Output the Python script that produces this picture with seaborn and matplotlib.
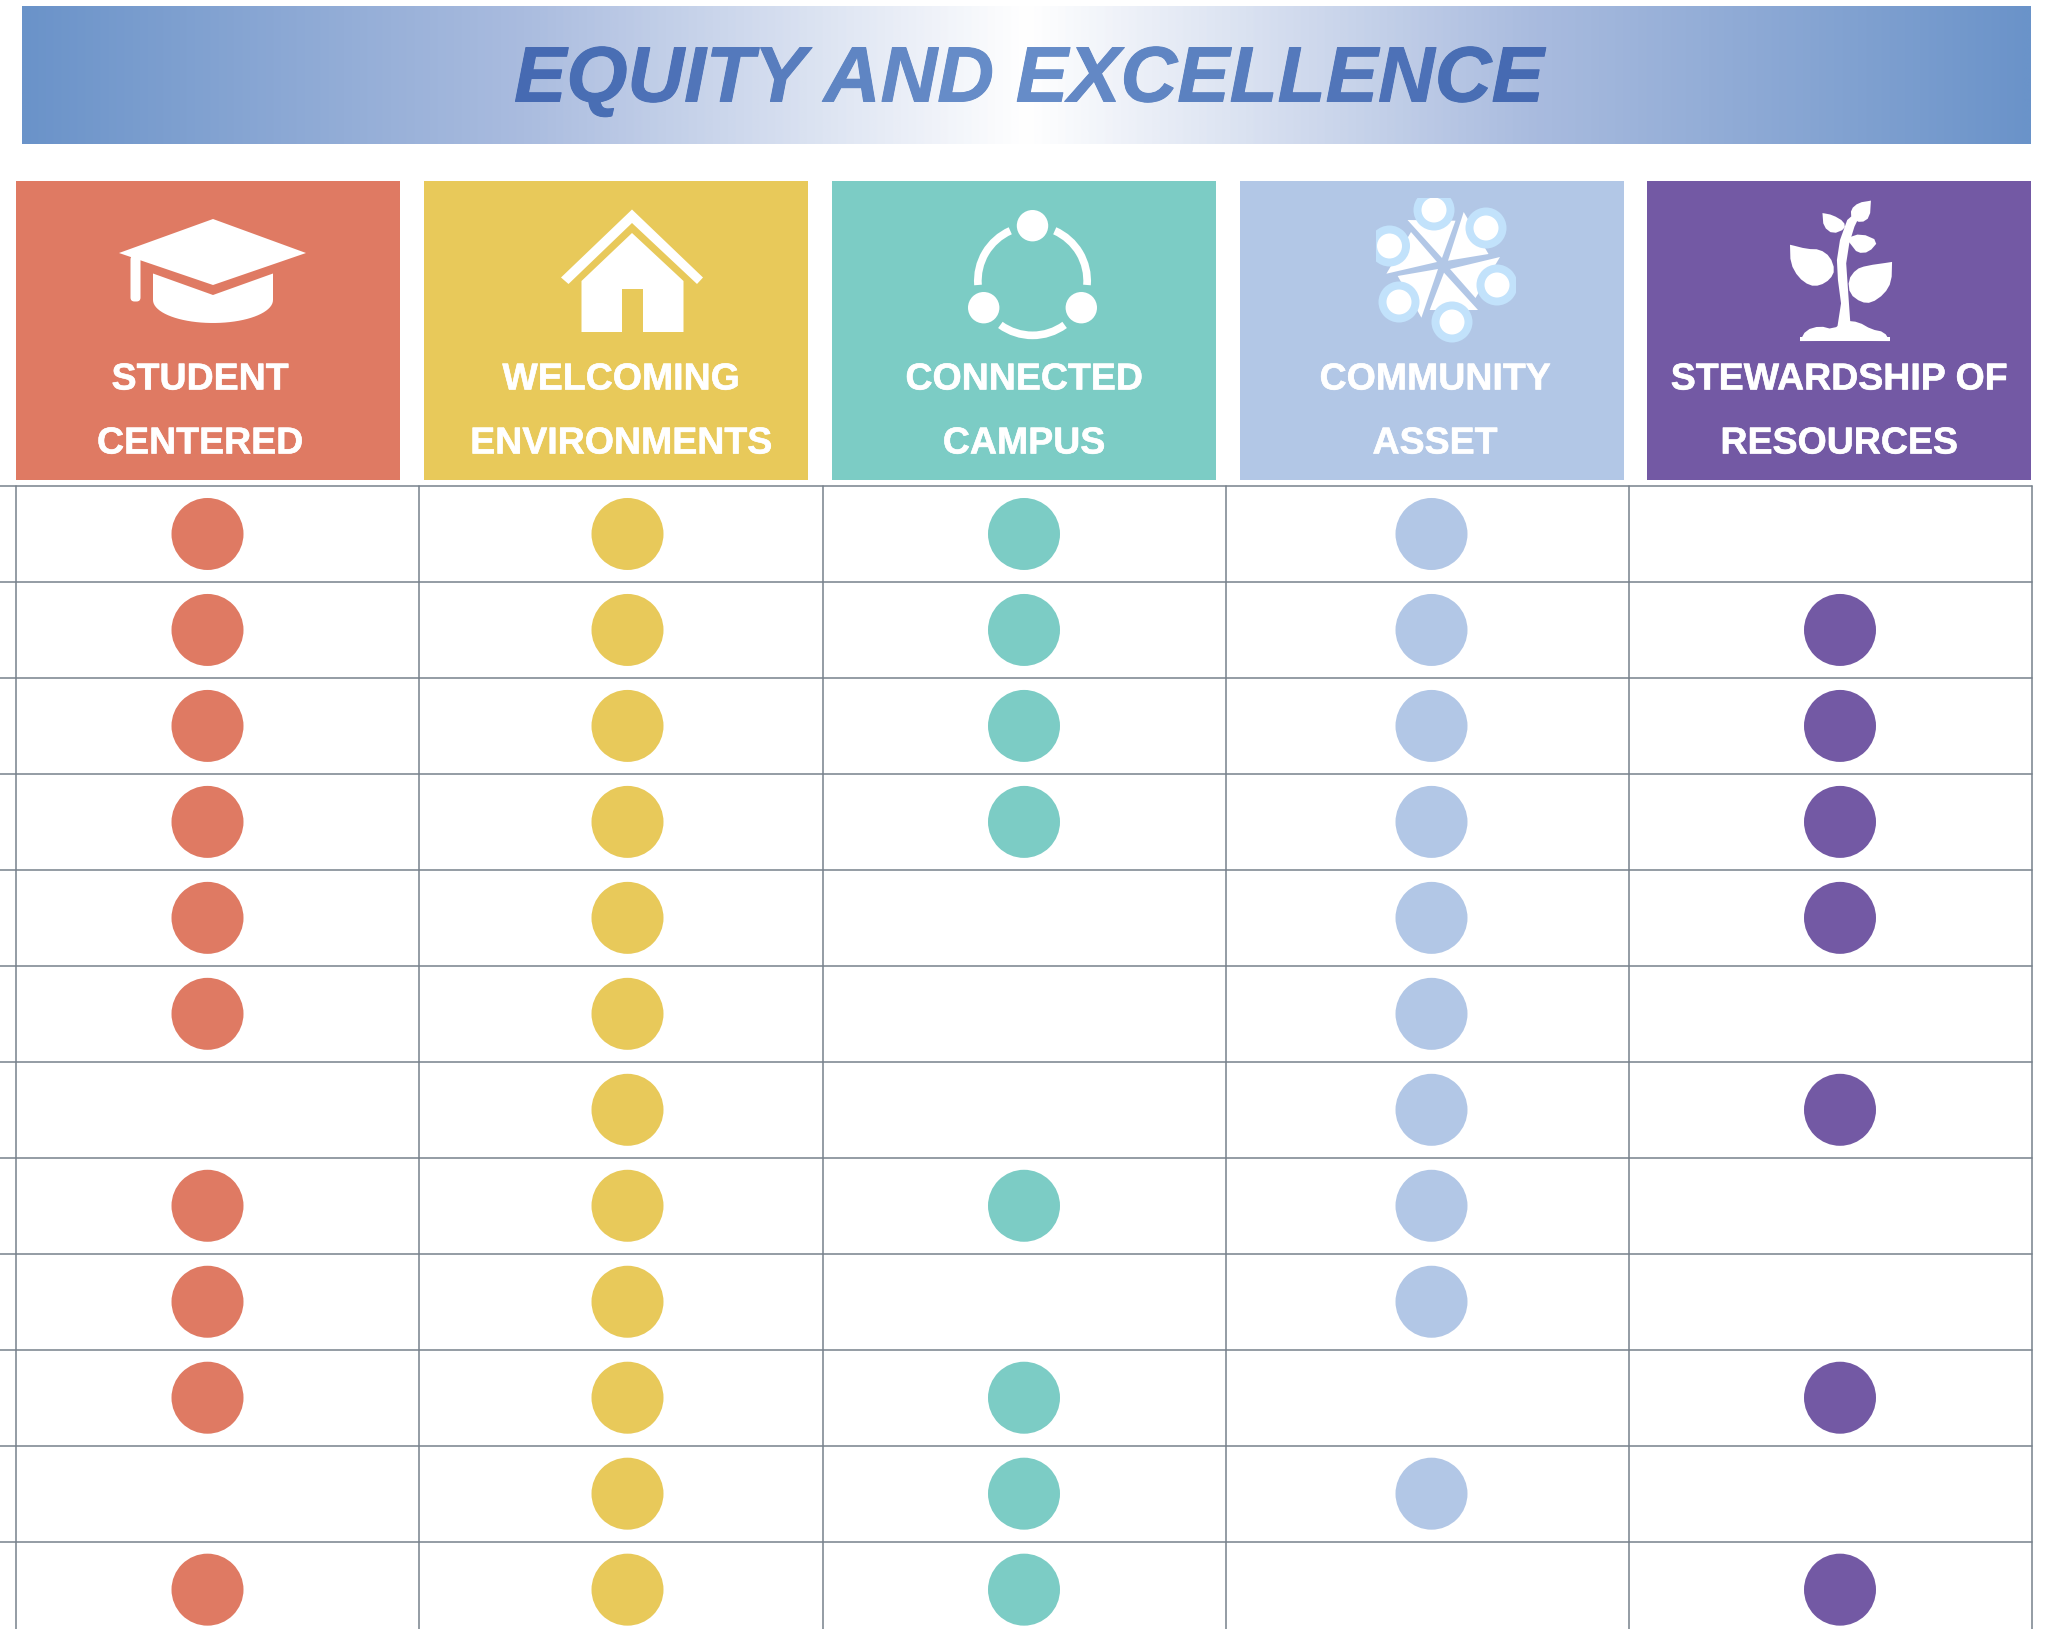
import numpy as np
import pandas as pd
import seaborn as sns
import matplotlib
matplotlib.use("Agg")
import matplotlib.pyplot as plt
import matplotlib.patheffects as pe
from matplotlib.colors import LinearSegmentedColormap
from matplotlib.patches import Circle, FancyBboxPatch, Polygon, Rectangle, Wedge

## data
title = "EQUITY AND EXCELLENCE"
pillars = ["STUDENT\nCENTERED", "WELCOMING\nENVIRONMENTS", "CONNECTED\nCAMPUS",
           "COMMUNITY\nASSET", "STEWARDSHIP OF\nRESOURCES"]
student = [1, 1, 1, 1, 1, 1, 0, 1, 1, 1, 0, 1]
welcoming = [1, 1, 1, 1, 1, 1, 1, 1, 1, 1, 1, 1]
connected = [1, 1, 1, 1, 0, 0, 0, 1, 0, 1, 1, 1]
community = [1, 1, 1, 1, 1, 1, 1, 1, 1, 0, 1, 0]
stewardship = [0, 1, 1, 1, 1, 0, 1, 0, 0, 1, 0, 1]
colors = ["#DF7A63", "#E8C95A", "#7CCCC5", "#B2C7E6", "#7359A4"]

## layout, in pixels of the 2048x1629 picture
panel_left = [16, 424, 832, 1240, 1647]
panel_w = 384
label_x = [200, 621, 1024, 1435, 1839]
dot_x = [207.5, 627.5, 1024, 1431.5, 1840]
grid_x = [16, 419, 823, 1226, 1629, 2032]
row_top = 486
row_h = 95.97
grid_c = "#76818B"

sns.set_theme(style="white")
plt.rcParams["font.family"] = ["Liberation Sans", "DejaVu Sans"]

fig = plt.figure(figsize=(20.48, 16.29), dpi=100)
ax = fig.add_axes([0, 0, 1, 1])
ax.set_xlim(0, 2048)
ax.set_ylim(1629, 0)
ax.axis("off")

## banner
cmap = LinearSegmentedColormap.from_list("banner", [(0, "#6A93C9"), (0.25, "#AABCDF"), (0.5, "#FFFFFF"),
                                                    (0.75, "#AABCDF"), (1, "#6A93C9")])
ax.imshow(np.linspace(0, 1, 1024).reshape(1, -1), cmap=cmap, extent=(22, 2031, 144, 6), aspect="auto", zorder=1)
ax.set_xlim(0, 2048)
ax.set_ylim(1629, 0)

## title letter by letter, the fill gets lighter toward the middle
title_cmap = LinearSegmentedColormap.from_list("title", ["#466AB2", "#6A90CA", "#466AB2"])
renderer = fig.canvas.get_renderer()
title_style = dict(fontsize=56.5, fontweight="bold", fontstyle="italic", va="center_baseline", zorder=2)


def title_width(s):
    t = ax.text(0, 0, s, **title_style)
    w = t.get_window_extent(renderer).width
    t.remove()
    return w


left = 1029 - title_width(title) / 2
for i, ch in enumerate(title):
    if ch == " ":
        continue
    offset = title_width(title[:i + 1]) - title_width(ch)
    t = ax.text(left + offset, 73, ch, color=title_cmap(i / (len(title) - 1)), ha="left", **title_style)
    t.set_path_effects([pe.withStroke(linewidth=0.7, foreground=t.get_color())])


## header panels
for left, c, lab_x, lab in zip(panel_left, colors, label_x, pillars):
    ax.add_patch(Rectangle((left, 181), panel_w, 299, color=c, lw=0, zorder=1))
    line1, line2 = lab.split("\n")
    for y, line in [(375.5, line1), (439.5, line2)]:
        t = ax.text(lab_x, y, line, color="white", fontsize=27, fontweight="bold", ha="center",
                    va="center_baseline", zorder=3)
        t.set_path_effects([pe.withStroke(linewidth=0.4, foreground="white")])


def white(patch):
    patch.set(facecolor="white", edgecolor="none", zorder=3)
    ax.add_patch(patch)


def chaikin(points, rounds=1):
    # corner cutting, to round off the traced leaves
    pts = np.array(points, dtype=float)
    for _ in range(rounds):
        nxt = np.roll(pts, -1, axis=0)
        pts = np.column_stack([0.75 * pts + 0.25 * nxt, 0.25 * pts + 0.75 * nxt]).reshape(-1, 2)
    return pts


## cap icon
white(Polygon([(213, 219), (306, 253), (213, 285), (119, 253)]))
white(FancyBboxPatch((133, 258), 5, 41, boxstyle="round,pad=2.5,rounding_size=4"))
cap_t = np.linspace(0, np.pi, 40)
white(Polygon([(153, 273.5), (213, 295), (273, 273.5)]
              + list(zip(213 + 60 * np.cos(cap_t), 300 + 23 * np.sin(cap_t)))))

## house icon
white(Polygon([(632, 209.5), (703, 277.5), (697, 284), (632, 223), (568.5, 284), (561, 277.5)]))
white(Polygon([(632, 233), (683.5, 281), (683.5, 332), (643, 332), (643, 289), (622, 289), (622, 332),
               (581.5, 332), (581.5, 281)]))

## connected icon
for cx, cy in [(1032.5, 225.7), (983.7, 307.7), (1081.3, 307.7)]:
    white(Circle((cx, cy), 15.7))
for t1, t2 in [(-184.5, -114), (-66, 4.5), (54, 126)]:
    white(Wedge((1032.5, 280.7), 58.5, t1, t2, width=7.7))

## community icon
for tri in [[(1407.5, 220), (1455.5, 220.7), (1442, 258)],
            [(1463.7, 212), (1488.5, 254), (1448, 260.7)],
            [(1500, 257), (1475.5, 298), (1450, 269)],
            [(1444, 272.7), (1478, 310), (1429.7, 310)],
            [(1438, 269), (1421.4, 317.7), (1397.7, 276)],
            [(1437, 262), (1386.4, 273.7), (1411, 232)]]:
    white(Polygon(tri))
clip = Rectangle((1376, 198), 140, 150, transform=ax.transData)
for cx, cy in [(1434, 210), (1486, 228), (1389.5, 246), (1497, 285), (1399, 302), (1452, 322)]:
    ring = Circle((cx, cy), 20.5, facecolor="#C2E2FB", edgecolor="none", zorder=4)
    ax.add_patch(ring)
    ring.set_clip_path(clip)
    hole = Circle((cx, cy), 12.5, facecolor="white", edgecolor="none", zorder=5)
    ax.add_patch(hole)
    hole.set_clip_path(clip)


## plant icon, traced on a crop stretched 1.94 x 3
def plant(points, smooth=True):
    pts = [(1240 + px / 1.94, 170 + py / 3) for px, py in points]
    return Polygon(chaikin(pts) if smooth else pts)


white(plant([(1158, 480), (1166, 400), (1160, 330), (1158, 270), (1164, 210), (1178, 150), (1200, 120), (1206, 125),
             (1192, 170), (1182, 220), (1176, 280), (1180, 370), (1185, 480)], smooth=False))
white(plant([(1067, 225), (1067, 224), (1100, 237), (1125, 238), (1145, 260), (1154, 300), (1145, 328), (1125, 347),
             (1105, 347), (1083, 322), (1068, 280)]))
white(plant([(1265, 276), (1265, 275), (1264, 335), (1250, 372), (1225, 399), (1205, 397), (1183, 372), (1180, 330),
             (1195, 298), (1215, 287)]))
white(plant([(1130, 130), (1130, 129), (1150, 135), (1172, 155), (1174, 177), (1150, 192), (1132, 170)]))
white(plant([(1224, 92), (1224, 91), (1222, 142), (1205, 159), (1186, 145), (1185, 118), (1200, 98)]))
white(plant([(1176, 205), (1205, 190), (1239, 213), (1220, 247), (1198, 249), (1186, 225)]))
white(plant([(1086, 513), (1086, 514), (1098, 480), (1125, 468), (1150, 478), (1175, 452), (1200, 456), (1225, 478),
             (1250, 486), (1261, 514), (1261, 513)]))
# flat foot under the mound
white(plant([(1086, 500), (1261, 500), (1261, 514), (1086, 514)], smooth=False))

## table grid
for r in range(12):
    ax.plot([0, 2032], [row_top + r * row_h] * 2, color=grid_c, lw=1.1, zorder=1)
for gx in grid_x:
    ax.plot([gx, gx], [row_top, 1629], color=grid_c, lw=1.1, zorder=1)

## dots
df = pd.DataFrame({"Student": student, "Welcoming": welcoming, "Connected": connected,
                   "Community": community, "Stewardship": stewardship})
long_df = df.reset_index().melt(id_vars="index", var_name="pillar", value_name="on")
long_df = long_df[long_df["on"] == 1].copy()
long_df["px"] = long_df["pillar"].map(dict(zip(df.columns, dot_x)))
long_df["py"] = row_top + (long_df["index"] + 0.5) * row_h
# diameter 72 px at dpi 100 -> 51.84 pt
sns.scatterplot(data=long_df, x="px", y="py", hue="pillar", palette=dict(zip(df.columns, colors)),
                s=51.84 ** 2, linewidth=0, legend=False, ax=ax, zorder=3)
ax.set_xlabel("")
ax.set_ylabel("")

fig.savefig("out.png", dpi=100)
